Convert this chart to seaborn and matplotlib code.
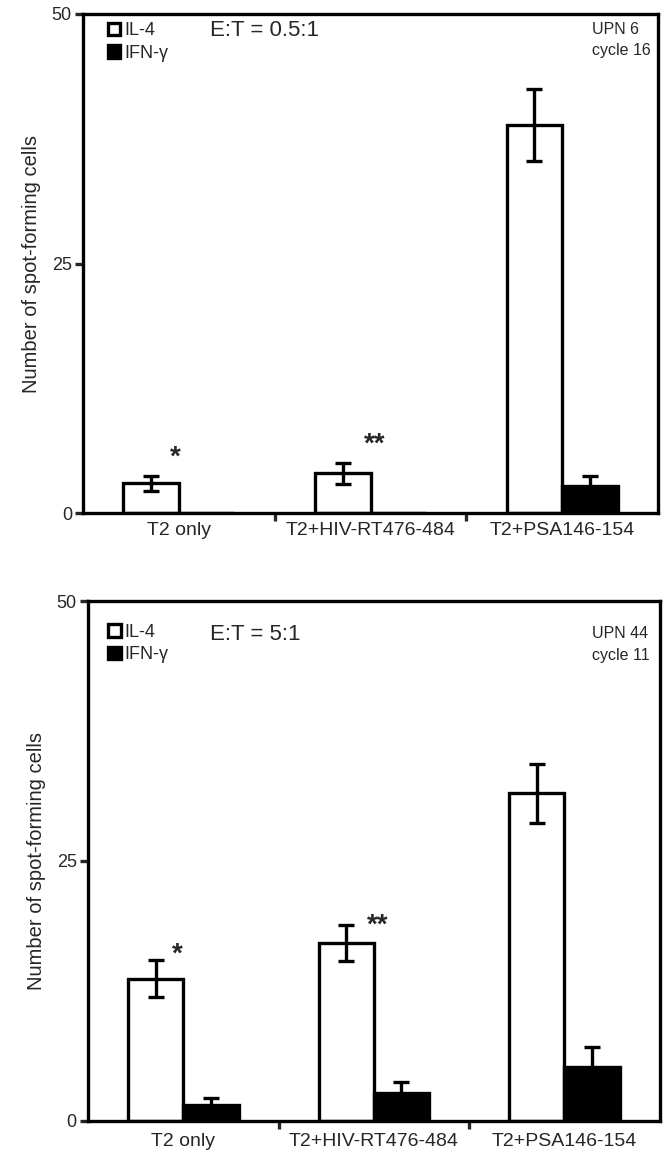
import pandas as pd
import matplotlib
matplotlib.use("Agg")
import matplotlib.pyplot as plt
import seaborn as sns

# daten
conditions = ["T2 only", "T2+HIV-RT476-484", "T2+PSA146-154"]
cytokines = ["IL-4", "IFN-γ"]

top_il4 = [3.0, 4.0, 38.9]
top_il4_err = [0.75, 1.05, 3.6]
top_ifn = [0.0, 0.0, 2.7]
top_ifn_err = [0.0, 0.0, 1.0]

bot_il4 = [13.7, 17.1, 31.5]
bot_il4_err = [1.75, 1.75, 2.8]
bot_ifn = [1.5, 2.7, 5.2]
bot_ifn_err = [0.7, 1.05, 1.9]

yticks = [0, 25, 50]

sns.set_style("white")
plt.rcParams["font.family"] = ["Liberation Sans", "DejaVu Sans"]

fig = plt.figure(figsize=(6.64, 11.56), dpi=100)
ax_top = fig.add_axes([0.125, 0.556, 0.866, 0.432])
ax_bot = fig.add_axes([0.1325, 0.0303, 0.861, 0.4498])


def panel(ax, il4, il4_err, ifn, ifn_err, ratio, upn, stars, pos):
    df = pd.DataFrame({
        "cond": conditions * 2,
        "cyt": [cytokines[0]] * 3 + [cytokines[1]] * 3,
        "val": il4 + ifn,
    })
    sns.barplot(data=df, x="cond", y="val", hue="cyt",
                palette={"IL-4": "white", "IFN-γ": "black"},
                edgecolor="black", linewidth=2.4, width=0.58,
                errorbar=None, ax=ax)

    # fehlerbalken auf die balken setzen
    errs = [il4_err, ifn_err]
    for cont, err in zip(ax.containers, errs):
        for bar, e in zip(cont, err):
            if e == 0:
                continue
            xc = bar.get_x() + bar.get_width() / 2
            ax.errorbar(xc, bar.get_height(), yerr=e, fmt="none",
                        ecolor="black", elinewidth=2.4, capsize=5.5,
                        capthick=2.4, zorder=5)

    # sterne
    for (xs, ys, s) in stars:
        ax.text(xs, ys, s, ha="center", va="center", fontsize=20,
                fontweight="bold")

    ax.set_xlim(-0.5, 2.5)
    ax.set_ylim(0, 50)
    ax.set_yticks(yticks)
    ax.set_yticklabels([str(t) for t in yticks], fontsize=13)
    ax.set_xticks(range(3))
    ax.set_xticklabels(conditions, fontsize=14)
    ax.set_xticks([0.5, 1.5], minor=True)
    ax.tick_params(axis="x", which="major", length=0, pad=pos["xpad"])
    ax.tick_params(axis="x", which="minor", length=6, width=2.4,
                   direction="out", bottom=True)
    ax.tick_params(axis="y", length=6, width=2.4, direction="out",
                   left=True, pad=2)
    ax.set_xlabel("")
    ax.set_ylabel("Number of spot-forming cells", fontsize=14.5, labelpad=8)
    for sp in ax.spines.values():
        sp.set_visible(True)
        sp.set_color("black")
        sp.set_linewidth(2.4)

    leg = ax.legend(loc="upper left", bbox_to_anchor=(pos["legx"], pos["legy"]),
                    frameon=False, fontsize=13, handlelength=0.7,
                    handleheight=0.7, handletextpad=0.2,
                    labelspacing=0.3, borderaxespad=0, borderpad=0)
    for h in leg.legend_handles:
        h.set_linewidth(2.4)
        h.set_edgecolor("black")

    ax.text(pos["etx"], pos["ety"], ratio, transform=ax.transAxes,
            fontsize=16, ha="left", va="center")
    ax.text(pos["upx"], pos["up1"], upn[0], transform=ax.transAxes,
            fontsize=11.5, ha="left", va="center")
    ax.text(pos["upx"], pos["up2"], upn[1], transform=ax.transAxes,
            fontsize=11.5, ha="left", va="center")


panel(ax_top, top_il4, top_il4_err, top_ifn, top_ifn_err,
      "E:T = 0.5:1", ["UPN 6", "cycle 16"],
      [(-0.02, 5.6, "*"), (1.02, 6.9, "**")],
      dict(xpad=6, legx=0.043, legy=0.983, etx=0.221, ety=0.966,
           upx=0.885, up1=0.968, up2=0.926))
panel(ax_bot, bot_il4, bot_il4_err, bot_ifn, bot_ifn_err,
      "E:T = 5:1", ["UPN 44", "cycle 11"],
      [(-0.03, 16.0, "*"), (1.02, 18.8, "**")],
      dict(xpad=9, legx=0.035, legy=0.956, etx=0.213, ety=0.935,
           upx=0.882, up1=0.938, up2=0.896))

fig.savefig("out.png", dpi=100)
